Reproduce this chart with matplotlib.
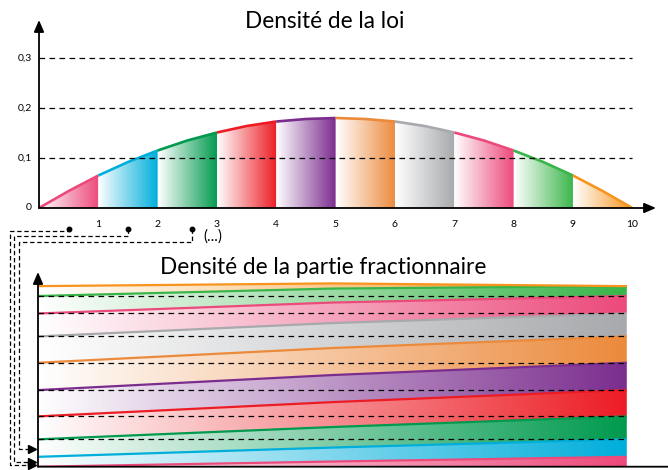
# -*- coding: utf-8 -*-
"""
Densité de la loi / densité de la partie fractionnaire
"""

import numpy as np
import matplotlib.pyplot as plt
from matplotlib.colors import to_rgb

plt.rcParams['font.family'] = ['Lato', 'DejaVu Sans']

# -------------------------------------------------------------------
# Data
# -------------------------------------------------------------------
x_points = [0, 0.5, 1, 1.5, 2, 2.5, 3, 3.5, 4, 4.5, 5,
            5.5, 6, 6.5, 7, 7.5, 8, 8.5, 9, 9.5, 10]
density = [0.0, 0.034, 0.065, 0.092, 0.115, 0.135, 0.151, 0.164, 0.173, 0.178, 0.180,
           0.178, 0.173, 0.164, 0.151, 0.135, 0.115, 0.092, 0.065, 0.034, 0.0]

band_colors = ["#ec4a7b", "#00aedb", "#009a4e", "#ed1c24", "#7b2d8e",
               "#ec8a3c", "#a7a9ac", "#ec4a7b", "#39b54a", "#f7941d"]

x_ticks = [1, 2, 3, 4, 5, 6, 7, 8, 9, 10]
x_ticklabels = ["1", "2", "3", "4", "5", "6", "7", "8", "9", "10"]
y_ticks = [0, 0.1, 0.2, 0.3]
y_ticklabels = ["0", "0,1", "0,2", "0,3"]

title_top = "Densité de la loi"
title_bottom = "Densité de la partie fractionnaire"

xs = np.array(x_points, dtype=float)
ys = np.array(density, dtype=float)
n_bands = len(band_colors)

# -------------------------------------------------------------------
# Figure / helpers
# -------------------------------------------------------------------
W, H = 668, 470
fig = plt.figure(figsize=(W / 100, H / 100), dpi=100)


def px_axes(left, top, right, bottom, **kw):
    return fig.add_axes([left / W, 1 - bottom / H, (right - left) / W, (bottom - top) / H], **kw)


def gradient_image(color, n=256):
    c = np.array(to_rgb(color))
    t = np.linspace(0, 1, n)[:, None]
    rgb = (1 - t) * np.ones(3) + t * c
    return rgb[None, :, :]


def gradient_fill(ax, x, lo, hi, color, z=1):
    poly = ax.fill_between(x, lo, hi, facecolor="none", edgecolor="none", zorder=z)
    im = ax.imshow(gradient_image(color), extent=[x[0], x[-1], np.min(lo), np.max(hi)],
                   aspect="auto", interpolation="bilinear", origin="lower", zorder=z)
    im.set_clip_path(poly.get_paths()[0], transform=ax.transData)


def axis_arrows(ax, right_arrow=True):
    for s in ax.spines.values():
        s.set_visible(False)
    ax.annotate("", xy=(0, 1), xytext=(0, 0), xycoords="axes fraction",
                arrowprops=dict(arrowstyle="-|>,head_width=0.3,head_length=0.7",
                                color="black", lw=1.3, shrinkA=0, shrinkB=0), zorder=10)
    ax.annotate("", xy=(1, 0), xytext=(0, 0), xycoords="axes fraction",
                arrowprops=dict(arrowstyle="-|>,head_width=0.3,head_length=0.7" if right_arrow else "-",
                                color="black", lw=1.3, shrinkA=0, shrinkB=0), zorder=10)


# -------------------------------------------------------------------
# Top panel : density
# -------------------------------------------------------------------
ax1 = px_axes(39, 20, 656, 208)
ax1.set_xlim(0, 10.4)
ax1.set_ylim(0, 0.376)

for k in range(n_bands):
    seg = slice(2 * k, 2 * k + 3)
    gradient_fill(ax1, xs[seg], np.zeros(3), ys[seg], band_colors[k])
    ax1.plot(xs[seg], ys[seg], color=band_colors[k], lw=1.9, solid_capstyle="butt", zorder=4)

for yv in y_ticks[1:]:
    ax1.plot([0, 10], [yv, yv], color="black", lw=0.9, dashes=(4.5, 3.5), zorder=5)

ax1.set_xticks([])
ax1.set_yticks([])
for xv, lab in zip(x_ticks, x_ticklabels):
    ax1.text(xv, -0.033, lab, ha="center", va="center", fontsize=7.5)
for yv, lab in zip(y_ticks, y_ticklabels):
    ax1.text(-0.12, yv, lab, ha="right", va="center", fontsize=7.5)
axis_arrows(ax1)

# -------------------------------------------------------------------
# Bottom panel : fractional part (bands stacked)
# -------------------------------------------------------------------
ax2 = px_axes(38, 272, 668, 466.7)
ax2.set_xlim(0, 1.07)
ax2.set_ylim(0, 1.281)

t = xs[0:3] - xs[0]
base = np.zeros(3)
tops = []
for k in range(n_bands):
    h = ys[2 * k:2 * k + 3]
    gradient_fill(ax2, t, base, base + h, band_colors[k])
    tops.append(base + h)
    base = base + h

for k in range(n_bands):
    ax2.plot(t, tops[k], color=band_colors[k], lw=1.6, solid_capstyle="butt", zorder=4)

for k in range(2, n_bands - 1):
    lvl = tops[k][0]
    ax2.plot([0, 1], [lvl, lvl], color="black", lw=0.9, dashes=(4.5, 3.5), zorder=5)

ax2.set_xticks([])
ax2.set_yticks([])
axis_arrows(ax2, right_arrow=False)

# -------------------------------------------------------------------
# Titles and connectors (figure pixel overlay)
# -------------------------------------------------------------------
ov = fig.add_axes([0, 0, 1, 1], zorder=20)
ov.set_xlim(0, W)
ov.set_ylim(H, 0)
ov.axis("off")
ov.patch.set_alpha(0)

ov.text(325, 22, title_top, ha="center", va="center", fontsize=16.3)
ov.text(323, 268, title_bottom, ha="center", va="center", fontsize=16.3)
ov.text(213, 237, "(...)", ha="center", va="center", fontsize=11)

connectors = [
    [(69, 228.5), (69, 231), (9.5, 231), (9.5, 465), (30, 465)],
    [(128, 228.5), (128, 236), (13.5, 236), (13.5, 462), (30, 462)],
    [(192, 228.5), (192, 242), (19, 242), (19, 449), (30, 449)],
]
for path in connectors:
    px, py = zip(*path)
    ov.plot(px, py, color="black", lw=0.9, dashes=(3.5, 2.2))
    ov.plot([px[0]], [py[0]], "o", color="black", ms=3.2)
    ov.plot([px[-1] + 2], [py[-1]], ">", color="black", ms=5.5)

fig.savefig("out.png", dpi=100)
